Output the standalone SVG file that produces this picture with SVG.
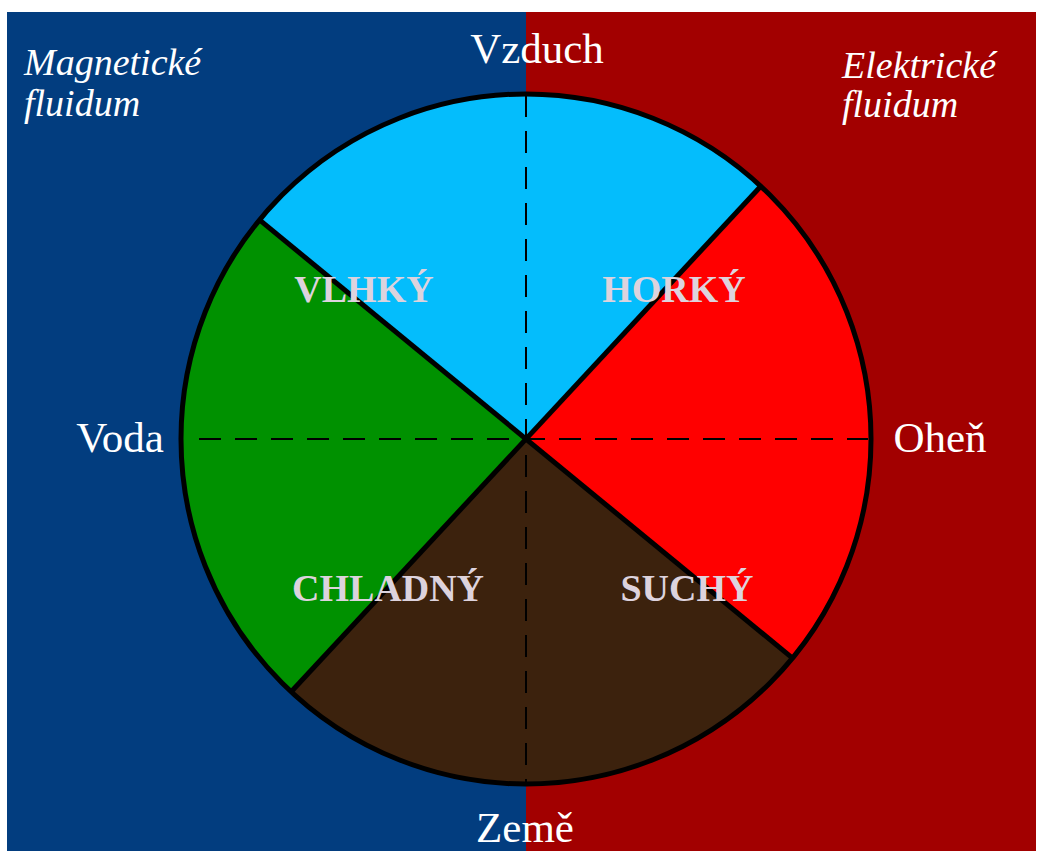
<svg xmlns="http://www.w3.org/2000/svg" width="1042" height="851" viewBox="0 0 1042 851">
<style>
.lbl{font-family:"Liberation Serif","Times New Roman",serif;font-size:43px;fill:#ffffff;text-anchor:middle}
.ital{font-family:"Liberation Serif","Times New Roman",serif;font-style:italic;font-size:38px;fill:#ffffff}
.sec{font-family:"Liberation Serif","Times New Roman",serif;font-weight:bold;font-size:38px;fill:#ddd3dd;text-anchor:middle}
.div{stroke:#000000;stroke-width:5;fill:none}
.dash{stroke:#000000;stroke-width:2;stroke-dasharray:22 14;fill:none}
</style>
<rect x="0" y="0" width="1042" height="851" fill="#ffffff"/>
<g id="background">
<rect x="7" y="12" width="519" height="839" fill="#023d7f"/>
<rect x="526" y="12" width="510" height="839" fill="#a20000"/>
</g>
<g id="sector-vzduch"><path d="M526,439 L259.5,219.9 A345,345 0 0,1 760.8,186.2 Z" fill="#04bdfc"/></g>
<g id="sector-ohen"><path d="M526,439 L760.8,186.2 A345,345 0 0,1 792.5,658.1 Z" fill="#ff0000"/></g>
<g id="sector-zeme"><path d="M526,439 L792.5,658.1 A345,345 0 0,1 291.2,691.8 Z" fill="#3c220d"/></g>
<g id="sector-voda"><path d="M526,439 L291.2,691.8 A345,345 0 0,1 259.5,219.9 Z" fill="#009100"/></g>
<g id="connectors">
<line class="dash" x1="526" y1="95" x2="526" y2="785"/>
<line class="dash" x1="199" y1="439" x2="868" y2="439"/>
<line class="div" x1="259.5" y1="219.9" x2="792.5" y2="658.1"/>
<line class="div" x1="760.8" y1="186.2" x2="291.2" y2="691.8"/>
<circle class="div" cx="526" cy="439" r="345"/>
</g>
<g id="label-vlhky"><text class="sec" x="364" y="302">VLHKÝ</text></g>
<g id="label-horky"><text class="sec" x="674" y="302">HORKÝ</text></g>
<g id="label-chladny"><text class="sec" x="388" y="601">CHLADNÝ</text></g>
<g id="label-suchy"><text class="sec" x="687" y="601">SUCHÝ</text></g>
<g id="label-vzduch"><text class="lbl" x="537" y="63">Vzduch</text></g>
<g id="label-voda"><text class="lbl" x="120" y="452">Voda</text></g>
<g id="label-ohen"><text class="lbl" x="940" y="452">Oheň</text></g>
<g id="label-zeme"><text class="lbl" x="525" y="842">Země</text></g>
<g id="label-magneticke">
<text class="ital" x="24" y="75">Magnetické</text>
<text class="ital" x="24" y="116">fluidum</text>
</g>
<g id="label-elektricke">
<text class="ital" x="842" y="78">Elektrické</text>
<text class="ital" x="842" y="117">fluidum</text>
</g>
</svg>
